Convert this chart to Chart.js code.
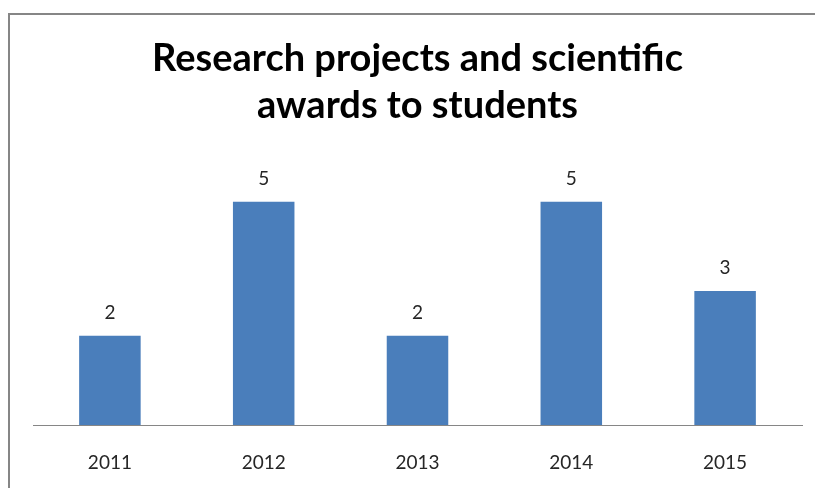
<!DOCTYPE html>
<html>
<head>
<meta charset="utf-8">
<script src="https://cdn.jsdelivr.net/npm/chart.js@4"></script>
<style>
  html, body { margin: 0; padding: 0; background: #fff; overflow: hidden; }
  #wrap { position: relative; width: 815px; height: 488px; }
  #frame {
    position: absolute; left: 8px; top: 13px; width: 900px; height: 600px;
    border: 2px solid #868686; box-sizing: border-box;
  }
  canvas { position: absolute; left: 0; top: 0; }
</style>
</head>
<body>
<div id="wrap">
  <div id="frame"></div>
  <canvas id="chart" width="815" height="488"></canvas>
</div>
<script>
const years = ['2011', '2012', '2013', '2014', '2015'];
const awards = [2, 5, 2, 5, 3];
const titleLines = ['Research projects and scientific', 'awards to students'];

// value labels above each bar
const barLabels = {
  id: 'barLabels',
  afterDatasetsDraw(chart) {
    const ctx = chart.ctx;
    const meta = chart.getDatasetMeta(0);
    ctx.save();
    ctx.font = '19px Lato, sans-serif';
    ctx.fillStyle = '#262626';
    ctx.textAlign = 'center';
    ctx.textBaseline = 'middle';
    meta.data.forEach((bar, i) => {
      ctx.fillText(String(awards[i]), bar.x, bar.y - 23);
    });
    ctx.restore();
  }
};

new Chart(document.getElementById('chart').getContext('2d'), {
  type: 'bar',
  data: {
    labels: years,
    datasets: [{
      data: awards,
      backgroundColor: '#4A7EBB',
      barPercentage: 0.4,
      categoryPercentage: 1.0
    }]
  },
  options: {
    responsive: false,
    animation: false,
    layout: { padding: { left: 33, right: 13, top: 0, bottom: 16 } },
    plugins: {
      legend: { display: false },
      tooltip: { enabled: false },
      title: {
        display: true,
        text: titleLines,
        color: '#000',
        font: { family: 'Lato, sans-serif', size: 38, weight: 'bold', lineHeight: 1.24 },
        padding: { top: 35, bottom: 28 }
      }
    },
    scales: {
      x: {
        grid: { display: false, drawTicks: false },
        border: { display: true, color: '#868686', width: 1 },
        ticks: {
          color: '#262626',
          font: { family: 'Lato, sans-serif', size: 19 },
          padding: 26
        },
        afterFit(scale) { scale.height = 47; }
      },
      y: {
        display: false,
        min: 0,
        max: 6
      }
    }
  },
  plugins: [barLabels]
});
</script>
</body>
</html>
